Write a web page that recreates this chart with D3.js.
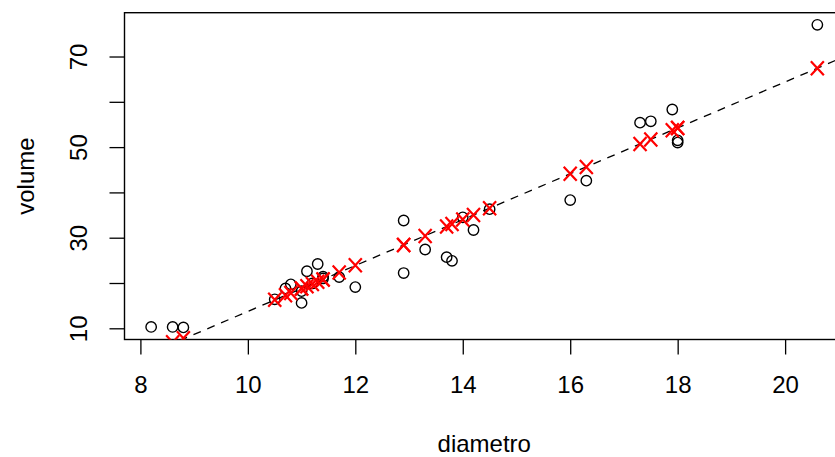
<!DOCTYPE html>
<html>
<head>
<meta charset="utf-8">
<script src="https://cdn.jsdelivr.net/npm/d3@7"></script>
<style>
  body { margin: 0; background: #fff; }
  text { font-family: "Liberation Sans", Arial, sans-serif; }
</style>
</head>
<body>
<svg></svg>
<script>
var width = 835;
var height = 457;
var margins = {left: 124.5, top: 12.7, right: -9, bottom: 117.5};

// diametro (x) e volume (y)
var diametro = [8.2, 8.6, 8.8, 10.5, 10.7, 10.8, 11.0, 11.0, 11.1, 11.2, 11.3, 11.4, 11.4, 11.7, 12.0,
                12.9, 12.9, 13.3, 13.7, 13.8, 14.0, 14.2, 14.5, 16.0, 16.3, 17.3, 17.5, 17.9, 18.0, 18.0, 20.6];
var volume = [10.3, 10.3, 10.2, 16.4, 18.8, 19.7, 15.6, 18.2, 22.6, 19.9, 24.2, 21.0, 21.4, 21.3, 19.1,
              22.2, 33.8, 27.4, 25.7, 24.9, 34.5, 31.7, 36.3, 38.3, 42.6, 55.4, 55.7, 58.3, 51.5, 51.0, 77.0];
// valores ajustados (X vermelhos)
var ajustados = [4.6, 6.9, 7.8, 16.3, 17.3, 17.8, 18.8, 18.8, 19.3, 19.8, 20.3, 20.8, 20.8, 22.3, 23.9,
                 28.4, 28.4, 30.4, 32.5, 33.0, 34.0, 35.0, 36.5, 44.1, 45.6, 50.7, 51.7, 53.7, 54.2, 54.2, 67.4];
// reta de regressao
var intercepto = -36.94;
var inclinacao = 5.066;

var xTicks = [8, 10, 12, 14, 16, 18, 20];
var yTicks = [10, 20, 30, 40, 50, 60, 70];
var yLabels = [10, 30, 50, 70];

var svg = d3.select("svg")
            .attr("width", width)
            .attr("height", height);

var x0 = d3.min(diametro), x1 = d3.max(diametro);
var y0 = d3.min(volume), y1 = d3.max(volume);
var xpad = (x1 - x0) * 0.04, ypad = (y1 - y0) * 0.04;

var xscale = d3.scaleLinear()
               .domain([x0 - xpad, x1 + xpad])
               .range([margins.left, width - margins.right]);

var yscale = d3.scaleLinear()
               .domain([y0 - ypad, y1 + ypad])
               .range([height - margins.bottom, margins.top]);

var bottom = height - margins.bottom;

svg.append("clipPath").attr("id", "plotarea")
    .append("rect")
    .attr("x", margins.left)
    .attr("y", margins.top)
    .attr("width", width - margins.right - margins.left)
    .attr("height", bottom - margins.top);

var xaxis = d3.axisBottom(xscale)
              .tickValues(xTicks)
              .tickSize(15)
              .tickPadding(21)
              .tickSizeOuter(0);

var yaxis = d3.axisLeft(yscale)
              .tickValues(yTicks)
              .tickSize(15)
              .tickPadding(0)
              .tickFormat(function(d){ return yLabels.indexOf(d) >= 0 ? d : ""; })
              .tickSizeOuter(0);

var gx = svg.append("g")
    .attr("transform", "translate(0," + bottom + ")")
    .call(xaxis);
gx.select(".domain").remove();
gx.selectAll("line").attr("stroke", "#000").attr("stroke-width", 1.3);
gx.selectAll("text").attr("font-size", 24).attr("fill", "#000");

var gy = svg.append("g")
    .attr("transform", "translate(" + margins.left + ",0)")
    .call(yaxis);
gy.select(".domain").remove();
gy.selectAll("line").attr("stroke", "#000").attr("stroke-width", 1.3);
gy.selectAll("text")
    .attr("font-size", 24)
    .attr("fill", "#000")
    .attr("x", null)
    .attr("dy", null)
    .attr("text-anchor", "middle")
    .attr("dominant-baseline", "central")
    .attr("transform", "translate(-46,0) rotate(-90)");

// moldura
svg.append("rect")
    .attr("x", margins.left)
    .attr("y", margins.top)
    .attr("width", width - margins.right - margins.left)
    .attr("height", bottom - margins.top)
    .attr("fill", "none")
    .attr("stroke", "#000")
    .attr("stroke-width", 1.4);

var plot = svg.append("g").attr("clip-path", "url(#plotarea)");

// pontos observados
plot.selectAll("circle")
    .data(diametro)
    .enter().append("circle")
    .attr("cx", function(d){ return xscale(d); })
    .attr("cy", function(d, i){ return yscale(volume[i]); })
    .attr("r", 5.2)
    .attr("fill", "none")
    .attr("stroke", "#000")
    .attr("stroke-width", 1.4);

// reta ajustada
var xd = xscale.domain();
plot.append("line")
    .attr("x1", xscale(xd[0]))
    .attr("y1", yscale(intercepto + inclinacao * xd[0]))
    .attr("x2", xscale(xd[1]))
    .attr("y2", yscale(intercepto + inclinacao * xd[1]))
    .attr("stroke", "#000")
    .attr("stroke-width", 1.3)
    .attr("stroke-dasharray", "8,7");

// valores ajustados
var s = 6.5;
plot.selectAll("path.fit")
    .data(diametro)
    .enter().append("path")
    .attr("class", "fit")
    .attr("d", function(d, i){
        var cx = xscale(d), cy = yscale(ajustados[i]);
        return "M" + (cx - s) + "," + (cy - s - 0.5) + "L" + (cx + s) + "," + (cy + s + 0.5) +
               "M" + (cx - s) + "," + (cy + s + 0.5) + "L" + (cx + s) + "," + (cy - s - 0.5);
    })
    .attr("stroke", "#ff0000")
    .attr("stroke-width", 2.2)
    .attr("fill", "none");

// titulos dos eixos
svg.append("text")
    .attr("x", (margins.left + width - margins.right) / 2)
    .attr("y", 443)
    .attr("text-anchor", "middle")
    .attr("dominant-baseline", "central")
    .attr("font-size", 24)
    .text("diametro");

svg.append("text")
    .attr("transform", "translate(25," + ((margins.top + bottom) / 2) + ") rotate(-90)")
    .attr("text-anchor", "middle")
    .attr("dominant-baseline", "central")
    .attr("font-size", 24)
    .text("volume");
</script>
</body>
</html>
